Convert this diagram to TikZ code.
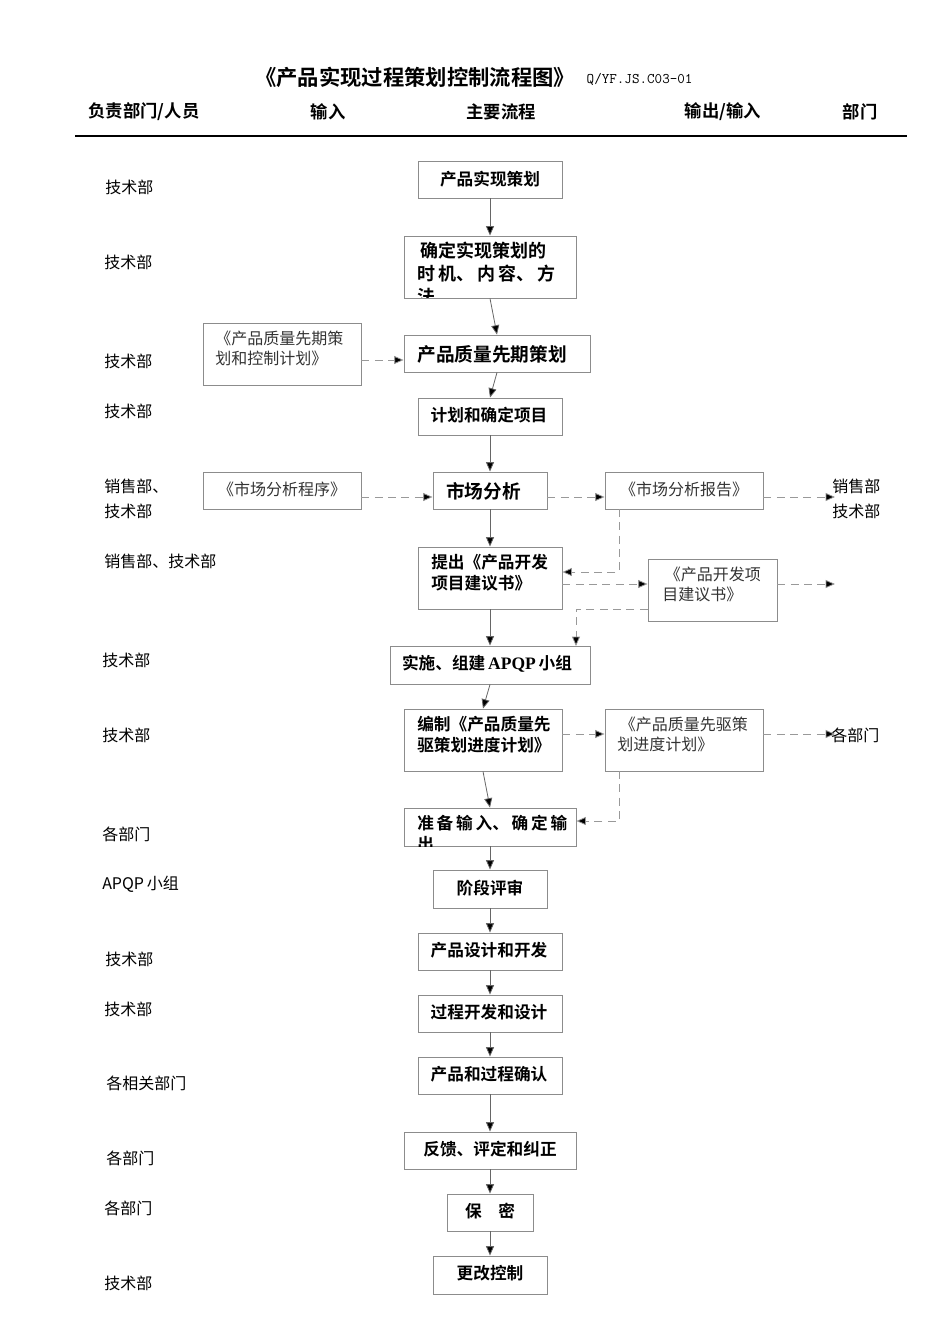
\documentclass[tikz,border=0pt]{standalone}
\usepackage{fontspec}
\setmainfont{Liberation Serif}
\newfontfamily\cjk{Noto Sans CJK SC}
\newfontfamily\cjkb{Noto Sans CJK SC Bold}
\usetikzlibrary{arrows.meta}
\begin{document}
\begin{tikzpicture}[x=0.75pt,y=-0.75pt,
  bx/.style={draw=black!45,line width=0.7pt},
  mt/.style={font=\cjkb\fontsize{12.5}{16}\selectfont,inner sep=0pt,align=left},
  st/.style={font=\cjk\fontsize{12}{15}\selectfont,text=black!80,inner sep=0pt,align=left},
  lab/.style={font=\cjk\fontsize{12}{15}\selectfont,inner sep=0pt,anchor=west},
  ar/.style={draw=black!60,line width=0.6pt,-{Triangle[length=7pt,width=6pt,fill=black]}},
  da/.style={draw=black!40,dashed,dash pattern=on 6pt off 4pt,line width=0.6pt,-{Triangle[length=7pt,width=6pt,fill=black]}},
  dl/.style={draw=black!40,dashed,dash pattern=on 6pt off 4pt,line width=0.6pt}]
\useasboundingbox (0,0) rectangle (950,1344);
% title
\node[font=\cjkb\fontsize{16}{18}\selectfont,anchor=east] (title) at (580,77) {《产品实现过程策划控制流程图》};
\node[font=\ttfamily\fontsize{11}{12}\selectfont,anchor=west] (code) at (582,79) {Q/YF.JS.C03-01};
\foreach \t/\x [count=\i] in {{负责部门/人员}/144,输入/328,主要流程/501,{输出/输入}/723,部门/860}
  \node[font=\cjkb\fontsize{13}{15}\selectfont] (h\i) at (\x,112) {\t};
\draw[line width=0.9pt] (75,136) coordinate (l1) -- (907,136) coordinate (l2);
% main boxes
\foreach \n/\a/\b/\c/\d in {b1/418/161/562/198,b2/404/236/576/298,b3/404/335/590/372,b4/418/398/562/435,b5/433/472/547/509,b6/418/547/562/609,b7/390/646/590/684,b8/404/709/562/771,b9/404/808/576/846,b10/433/870/547/908,b11/418/933/562/970,b12/418/995/562/1032,b13/418/1057/562/1094,b14/404/1132/576/1169,b15/447/1194/533/1231,b16/433/1256/547/1294}
  \path[bx] (\a,\b) rectangle (\c,\d) node[pos=0.5,inner sep=0pt,minimum width={(\c-\a)*0.75pt},minimum height={(\d-\b)*0.75pt}] (\n) {};
\node[mt] (t1) at (b1) {产品实现策划};
\begin{scope}\clip (404,236) rectangle (576,298);
\node[mt,anchor=north west,font=\cjkb\fontsize{13.5}{17}\selectfont] (t2) at (417,242) {\,确定实现策划的\\时\,机、\,内\,容、\,方\\法};
\end{scope}
\node[mt,font=\cjkb\fontsize{14}{16}\selectfont] (t3) at (492,354) {产品质量先期策划};
\node[mt] (t4) at (489,415) {计划和确定项目};
\node[mt,font=\cjkb\fontsize{14}{16}\selectfont,anchor=west] (t5) at (446,491) {市场分析};
\node[mt,anchor=north west] (t6) at (431,554) {提出《产品开发\\项目建议书》};
\node[mt] (t7) at (487,664) {实施、组建\,{\fontspec{Liberation Serif}[Scale=1.05]\bfseries APQP}\,小组};
\node[mt,anchor=north west] (t8) at (417,716) {编制《产品质量先\\驱策划进度计划》};
\begin{scope}\clip (404,808) rectangle (576,846);
\node[mt,anchor=north west] (t9) at (417,815) {准\,备\,输\,入、\,确\,定\,输\\出};
\end{scope}
\node[mt] (t10) at (490,888) {阶段评审};
\node[mt] (t11) at (489,950) {产品设计和开发};
\node[mt] (t12) at (489,1012) {过程开发和设计};
\node[mt] (t13) at (489,1074) {产品和过程确认};
\node[mt] (t14) at (490,1149) {反馈、评定和纠正};
\node[mt] (t15) at (490,1211) {保\quad 密};
\node[mt] (t16) at (490,1273) {更改控制};
\foreach \i [evaluate=\i as \j using int(\i+1)] in {1,...,15}
  \draw[ar] (b\i.south) -- (b\j.north);
% side boxes
\foreach \n/\a/\b/\c/\d in {sA/203/323/361/385,sB/203/472/361/509,sC/605/472/763/509,sD/648/559/777/621,sE/605/709/763/771}
  \path[bx] (\a,\b) rectangle (\c,\d) node[pos=0.5,inner sep=0pt,minimum width={(\c-\a)*0.75pt},minimum height={(\d-\b)*0.75pt}] (\n) {};
\node[st,anchor=north west] (tA) at (215,331) {《产品质量先期策\\划和控制计划》};
\node[st] (tB) at (282,489) {《市场分析程序》};
\node[st] (tC) at (684,489) {《市场分析报告》};
\node[st,anchor=north west] (tD) at (662,567) {\,《产品开发项\\目建议书》};
\node[st,anchor=north west] (tE) at (617,717) {\,《产品质量先驱策\\划进度计划》};
% dashed connectors
\draw[da] (sA.east |- 0,360) -- (b3.west |- 0,360);
\draw[da] (sB.east |- 0,497) -- (b5.west |- 0,497);
\draw[da] (b5.east |- 0,497) -- (sC.west |- 0,497);
\coordinate (eC) at (835,497);
\draw[da] (sC.east |- 0,497) -- (eC);
\draw[da] (619,509) -- (619,572) -- (b6.east |- 0,572);
\draw[da] (b6.east |- 0,584) -- (sD.west |- 0,584);
\coordinate (eD) at (835,584);
\draw[da] (sD.east |- 0,584) -- (eD);
\draw[da] (sD.west |- 0,609) -- (576,609) -- (576,646);
\draw[da] (b8.east |- 0,734) -- (sE.west |- 0,734);
\coordinate (eE) at (835,734);
\draw[da] (sE.east |- 0,734) -- (eE);
\draw[da] (619,771) -- (619,821) -- (b9.east |- 0,821);
% right labels
\node[lab] (r1) at (832,486) {销售部};
\node[lab] (r2) at (832,511) {技术部};
\node[lab] (r3) at (831,735) {各部门};
% left labels
\foreach \t/\y/\x [count=\i] in {技术部/187/105,技术部/262/104,技术部/361/104,技术部/411/104,销售部、/486/104,技术部/511/104,销售部、技术部/561/104,技术部/660/102,技术部/735/102,各部门/834/102,技术部/959/105,技术部/1009/104,各相关部门/1083/106,各部门/1158/106,各部门/1208/104,技术部/1283/104}
  \node[lab] (L\i) at (\x,\y) {\t};
\node[lab] (Lapqp) at (102,884) {APQP\,小组};
\end{tikzpicture}
\end{document}
